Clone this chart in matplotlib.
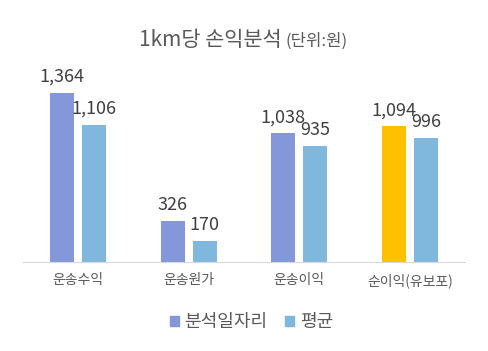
import numpy as np
import matplotlib.pyplot as plt
from matplotlib.patches import Patch

plt.rcParams['font.family'] = ['Noto Sans CJK KR', 'DejaVu Sans']

categories = ['운송수익', '운송원가', '운송이익', '순이익(유보포)']
series_names = ['분석일자리', '평균']
analysis_vals = [1364, 326, 1038, 1094]
average_vals = [1106, 170, 935, 996]

c_analysis = '#8497D8'
c_average = '#7FB8DC'
c_highlight = '#FFC000'

fig = plt.figure(figsize=(4.88, 3.51), dpi=100)
ax = fig.add_axes([0.047, 0.254, 0.906, 0.53])

x = np.arange(len(categories))
w = 0.22
off = 0.145
colors1 = [c_analysis] * 3 + [c_highlight]
b1 = ax.bar(x - off, analysis_vals, w, color=colors1, label=series_names[0])
b2 = ax.bar(x + off, average_vals, w, color=c_average, label=series_names[1])

for bars in (b1, b2):
    for r in bars:
        ax.annotate(f'{int(r.get_height()):,}', (r.get_x() + r.get_width() / 2, r.get_height()),
                    xytext=(0, 5), textcoords='offset points', ha='center', va='bottom',
                    fontsize=13, color='#404040')

ax.set_xlim(-0.5, 3.5)
ax.set_ylim(0, 1500)
ax.set_yticks([])
ax.set_xticks(x)
ax.set_xticklabels(categories, fontsize=10, color='#595959')
ax.tick_params(axis='x', length=0, pad=8)
for s in ['top', 'right', 'left']:
    ax.spines[s].set_visible(False)
ax.spines['bottom'].set_color('#d9d9d9')

handles = [Patch(color=c_analysis), Patch(color=c_average)]
fig.legend(handles, series_names, loc='center', bbox_to_anchor=(0.515, 0.082), ncol=2,
           frameon=False, fontsize=13, handlelength=0.5, handleheight=0.5,
           handletextpad=0.3, columnspacing=1.0, labelcolor='#595959')

fig.text(0.578, 0.886, '1km당 손익분석', ha='right', va='center', fontsize=15, color='#595959')
fig.text(0.586, 0.882, '(단위:원)', ha='left', va='center', fontsize=12, color='#595959')

fig.savefig('out.png', dpi=100)
